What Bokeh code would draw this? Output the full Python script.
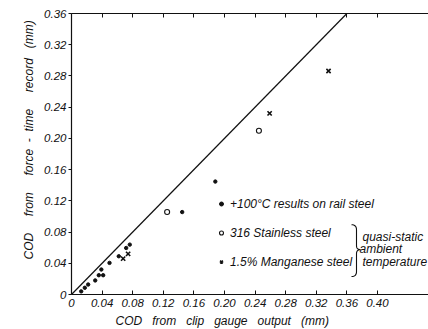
from bokeh.plotting import figure
from bokeh.models import (FixedTicker, LinearAxis, Label, Legend, LegendItem, Range1d, Title)
from bokeh.embed import file_html
from bokeh.resources import INLINE

# ---- data ----
rail_x = [0.0127, 0.0174, 0.0218, 0.031, 0.0357, 0.0414, 0.039, 0.0497, 0.0618, 0.0715, 0.0762, 0.1447, 0.188]
rail_y = [0.004, 0.0086, 0.0128, 0.018, 0.0247, 0.0247, 0.032, 0.0405, 0.049, 0.0596, 0.0639, 0.1056, 0.1447]
ss_x = [0.125, 0.245]
ss_y = [0.1056, 0.2098]
mn_x = [0.0675, 0.074, 0.259, 0.336]
mn_y = [0.046, 0.052, 0.232, 0.2863]
line_x = [0.0, 0.36]
line_y = [0.0, 0.36]
x_ticks = [0, 0.04, 0.08, 0.12, 0.16, 0.20, 0.24, 0.28, 0.32, 0.36, 0.40]
y_ticks = [0, 0.04, 0.08, 0.12, 0.16, 0.20, 0.24, 0.28, 0.32, 0.36]
x_tick_labels = ["0", "0.04", "0.08", "0.12", "0.16", "0.20", "0.24", "0.28", "0.32", "0.36", "0.40"]
y_tick_labels = ["0", "0.04", "0.08", "0.12", "0.16", "0.20", "0.24", "0.28", "0.32", "0.36"]
legend_labels = ["+100°C results on rail steel", "316 Stainless steel", "1.5% Manganese steel"]
NB = "\u00a0"
x_title = ("COD" + NB * 3 + "from" + NB * 3 + "clip" + NB * 3 + "gauge" + NB * 3
           + "output" + NB * 3 + "(mm)")
y_title = ("COD" + NB * 5 + "from" + NB * 5 + "force" + NB * 2 + "-" + NB * 2 + "time"
           + NB * 5 + "record" + NB * 3 + "(mm)")
bracket_lines = ["quasi-static", "ambient", "temperature"]

FONT = "Liberation Sans"
INK = "#111111"
X_MAX = 0.4667
Y_MAX = 0.36
FL, FT, FB, FR = 71, 13, 295, 428   # frame edges in page pixels

p = figure(width=428, height=329, output_backend="svg", toolbar_location=None,
           x_range=Range1d(0, X_MAX), y_range=Range1d(0, Y_MAX),
           min_border_left=FL, min_border_right=0, min_border_top=FT, min_border_bottom=329 - FB)
p.outline_line_color = None
p.grid.visible = False
p.background_fill_color = "white"
p.border_fill_color = "white"

# axes
xa = p.xaxis[0]
xa.ticker = FixedTicker(ticks=x_ticks)
xa.major_label_overrides = {t: s for t, s in zip(x_ticks, x_tick_labels)}
xa.major_tick_in = 4
xa.major_tick_out = 0
xa.major_label_standoff = 4
ya = p.yaxis[0]
ya.ticker = FixedTicker(ticks=y_ticks)
ya.major_label_overrides = {t: s for t, s in zip(y_ticks, y_tick_labels)}
ya.major_tick_in = 0
ya.major_tick_out = 3
ya.major_label_standoff = 2
for ax in (xa, ya):
    ax.minor_tick_line_color = None
    ax.axis_line_color = INK
    ax.axis_line_width = 1.2
    ax.major_tick_line_color = INK
    ax.major_label_text_font = FONT
    ax.major_label_text_font_style = "italic"
    ax.major_label_text_font_size = "11.5px"
    ax.major_label_text_color = INK

top = LinearAxis(ticker=FixedTicker(ticks=x_ticks), major_tick_in=4, major_tick_out=0,
                 minor_tick_line_color=None, major_label_text_color=None,
                 major_label_text_font_size="1px",
                 major_label_standoff=0, axis_line_color=INK, axis_line_width=1.2,
                 major_tick_line_color=INK)
p.add_layout(top, "above")

# axis titles
p.add_layout(Title(text=x_title, align="left", offset=44, standoff=4,
                   text_font=FONT, text_font_style="italic", text_font_size="12px",
                   text_color=INK), "below")
p.add_layout(Title(text=y_title, align="left", offset=35, standoff=12,
                   text_font=FONT, text_font_style="italic", text_font_size="12px",
                   text_color=INK), "left")

# diagonal 1:1 line
p.line(line_x, line_y, line_color=INK, line_width=1.2)

r_rail = p.scatter(rail_x, rail_y, marker="circle", size=3.4, fill_color=INK, line_color=INK)
r_ss = p.scatter(ss_x, ss_y, marker="circle", size=5, fill_color="white", line_color=INK, line_width=1.1)
r_mn = p.scatter(mn_x, mn_y, marker="x", size=6, line_color=INK, line_width=1.6)

legend = Legend(items=[LegendItem(label=legend_labels[0], renderers=[r_rail]),
                       LegendItem(label=legend_labels[1], renderers=[r_ss]),
                       LegendItem(label=legend_labels[2], renderers=[r_mn])],
                location=(145, 23), padding=0, margin=0, spacing=10,
                glyph_width=10, glyph_height=19, label_height=19, label_standoff=4,
                label_text_font=FONT, label_text_font_style="italic",
                label_text_font_size="12px", label_text_color=INK,
                border_line_color=None, background_fill_alpha=0)
p.add_layout(legend)

# brace drawn as a thin curve (page pixels -> data)
def px2x(px):
    return (px - FL) / (FR - FL) * X_MAX

def py2y(py):
    return (FB - py) / (FB - FT) * Y_MAX

def quad(p0, c, p1, n=8):
    pts = []
    for i in range(n + 1):
        t = i / n
        pts.append(((1 - t) ** 2 * p0[0] + 2 * (1 - t) * t * c[0] + t ** 2 * p1[0],
                    (1 - t) ** 2 * p0[1] + 2 * (1 - t) * t * c[1] + t ** 2 * p1[1]))
    return pts

brace_px = (quad((351, 225), (356, 225), (356, 230)) +
            quad((356, 246), (356, 250), (360, 250)) +
            quad((360, 250), (356, 250), (356, 254)) +
            quad((356, 272), (356, 277), (351, 277)))
p.line([px2x(a) for a, b in brace_px], [py2y(b) for a, b in brace_px],
       line_color=INK, line_width=1.1)

for i, s in enumerate(bracket_lines):
    p.add_layout(Label(x=291 - (3 if i == 1 else 0), y=58 - 12.5 * i, x_units="screen", y_units="screen",
                       text=s, text_font=FONT, text_font_style="italic",
                       text_font_size="12px", text_color=INK, text_baseline="middle"))

open("out.html", "w").write(file_html(p, INLINE))
